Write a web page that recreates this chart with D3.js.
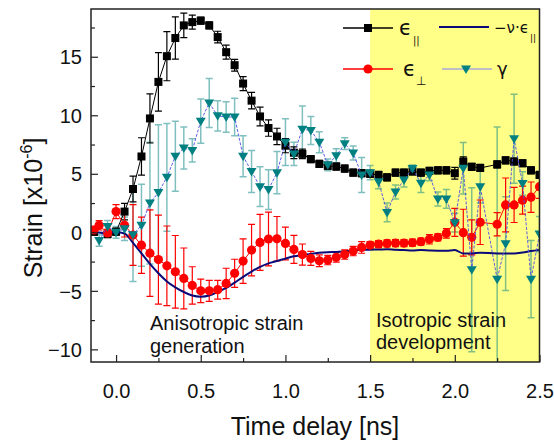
<!DOCTYPE html>
<html>
<head>
<meta charset="utf-8">
<script src="https://cdn.jsdelivr.net/npm/d3@7"></script>
<style>
  body { margin: 0; background: #fff; }
  svg { font-family: "Liberation Sans", Arial, sans-serif; }
</style>
</head>
<body>
<svg id="chart"></svg>
<script>
// time delay (ns)
const tPar = [-0.13, -0.05, 0, 0.05, 0.1, 0.15, 0.2, 0.25, 0.3, 0.35, 0.4, 0.45, 0.5, 0.55, 0.6, 0.65, 0.7, 0.75, 0.8, 0.85, 0.9, 0.95,
  1.0, 1.05, 1.1, 1.15, 1.2, 1.25, 1.3, 1.35, 1.4, 1.45, 1.5, 1.55, 1.6, 1.65, 1.7, 1.75, 1.8, 1.85, 1.9, 1.95,
  2.0, 2.05, 2.1, 2.15, 2.25, 2.3, 2.35, 2.4, 2.45, 2.5];
const epsPar = [0.05, -0.15, 0.05, 1.77, 3.7, 6.48, 9.73, 12.85, 15.05, 16.6, 17.68, 17.96, 18.08, 17.68, 16.68, 15.39, 14.28, 12.71, 11.25, 9.9, 8.91, 8.19,
  7.4, 6.8, 6.7, 6.25, 5.85, 5.68, 5.62, 5.45, 5.1, 5.05, 5.0, 4.9, 4.7, 5.1, 5.1, 5.2, 5.1, 5.25, 5.3, 5.3,
  5.05, 6.05, 5.6, 5.5, 5.8, 6.15, 6.05, 5.9, 5.3, 4.9];
const epsParErr = [0.3, 0.3, 0.3, 0.7, 1.1, 1.6, 2.1, 2.5, 2.1, 1.8, 1.05, 0.6, 0.3, 0.3, 0.5, 0.6, 0.5, 0.6, 0.7, 0.8, 0.7, 0.7,
  0.6, 0.5, 0.4, 0.3, 0.3, 0.3, 0.3, 0.3, 0.3, 0.3, 0.3, 0.3, 0.3, 0.3, 0.3, 0.3, 0.3, 0.3, 0.3, 0.3,
  0.5, 0.4, 0.3, 0.3, 0.3, 0.3, 0.3, 0.3, 0.3, 0.3];

const tPerp = [-0.13, -0.1, -0.05, 0, 0.05, 0.1, 0.15, 0.2, 0.25, 0.3, 0.35, 0.4, 0.45, 0.5, 0.55, 0.6, 0.65, 0.7, 0.75, 0.8, 0.85, 0.9, 0.95,
  1.0, 1.05, 1.1, 1.15, 1.2, 1.25, 1.3, 1.35, 1.4, 1.45, 1.5, 1.55, 1.6, 1.65, 1.7, 1.75, 1.8, 1.85, 1.9, 1.95,
  2.0, 2.05, 2.1, 2.15, 2.25, 2.3, 2.35, 2.4, 2.45, 2.5];
const epsPerp = [0.2, 0.6, -0.05, 1.77, 0.6, -0.23, -1.1, -1.78, -2.33, -2.86, -3.37, -3.94, -4.54, -5.0, -5.0, -4.9, -4.37, -3.5, -2.46, -1.52, -0.86, -0.57, -0.55,
  -0.95, -1.46, -1.9, -2.23, -2.43, -2.37, -2.14, -1.9, -1.6, -1.29, -1.09, -1.0, -0.95, -0.92, -0.92, -0.89, -0.8, -0.6, -0.43, -0.09,
  0.85, -0.03, -0.43, 0.86, 0.69, 2.34, 2.34, 2.75, 3.0, 3.9];
const epsPerpErr = [0.3, 0.4, 0.3, 0.6, 1.0, 2.6, 2.4, 3.7, 3.8, 3.4, 3.1, 2.6, 1.6, 1.0, 0.9, 0.8, 1.3, 1.2, 1.9, 2.2, 2.4, 2.3, 1.9,
  1.4, 1.2, 0.9, 0.6, 0.5, 0.4, 0.4, 0.4, 0.4, 0.5, 0.3, 0.3, 0.3, 0.3, 0.3, 0.3, 0.3, 0.4, 0.3, 0.4,
  1.2, 2.0, 1.5, 1.9, 1.0, 2.3, 1.5, 1.2, 1.3, 1.0];

// -nu * eps_par curve
const nuEps = [0.0, -0.05, 0.0, -0.1, -0.9, -1.8, -2.7, -3.5, -4.2, -4.7, -5.1, -5.4, -5.5, -5.4, -5.1, -4.75, -4.3, -3.8, -3.35, -2.95, -2.65, -2.45,
  -2.25, -2.05, -1.95, -1.85, -1.75, -1.7, -1.68, -1.62, -1.55, -1.5, -1.48, -1.47, -1.45, -1.5, -1.52, -1.55, -1.52, -1.55, -1.57, -1.57,
  -1.52, -1.8, -1.8, -1.75, -1.8, -1.8, -1.8, -1.72, -1.6, -1.5];

const tGamma = [-0.1, -0.05, 0, 0.05, 0.1, 0.15, 0.2, 0.25, 0.3, 0.35, 0.4, 0.45, 0.5, 0.55, 0.6, 0.65, 0.7, 0.75, 0.8, 0.85, 0.9, 0.95,
  1.0, 1.05, 1.1, 1.15, 1.2, 1.25, 1.3, 1.35, 1.4, 1.45, 1.5, 1.55, 1.6, 1.65, 1.7, 1.75, 1.8, 1.85, 1.9, 1.95,
  2.0, 2.05, 2.1, 2.15, 2.25, 2.3, 2.35, 2.4, 2.45, 2.5];
const gamma = [-0.7, 0.5, 0.0, 0.3, -0.2, 0.6, 2.5, 3.4, 4.7, 6.5, 7.2, 7.0, 9.5, 11.05, 9.95, 9.85, 9.85, 6.5, 5.2, 3.9, 3.65, 5.1,
  7.7, 6.7, 8.8, 8.7, 7.7, 5.77, 6.54, 7.57, 6.77, 4.9, 5.1, 4.33, 1.7, 3.45, 4.48, 5.45, 4.2, 4.9, 2.85, 2.85,
  0.82, 5.48, -3.2, 3.9, -4.0, -0.97, 8.0, 4.17, -4.0, -0.15];
const gammaErr = [0.5, 0.5, 0.5, 1.0, 4.0, 3.5, 5.2, 5.8, 4.6, 3.0, 1.8, 1.0, 1.9, 2.1, 1.3, 1.3, 1.6, 1.75, 1.8, 1.7, 1.7, 1.8,
  2.0, 1.0, 2.0, 1.2, 0.9, 0.5, 0.6, 0.5, 0.6, 1.5, 0.6, 0.6, 0.8, 0.6, 0.6, 0.3, 0.8, 0.5, 0.6, 0.8,
  0.8, 2.2, 7.0, 1.4, 13.0, 4.0, 3.8, 1.0, 3.3, 1.5];

const xTicks = [0.0, 0.5, 1.0, 1.5, 2.0, 2.5];
const xMinorTicks = [0.25, 0.75, 1.25, 1.75, 2.25];
const yTicks = [-10, -5, 0, 5, 10, 15];
const yMinorTicks = [-7.5, -2.5, 2.5, 7.5, 12.5, 17.5];
const isoRange = [1.5, 2.5];

var W = 554, H = 441;
var margin = { top: 9, right: 14.5, bottom: 79, left: 91 };
var width = W - margin.left - margin.right;
var height = H - margin.top - margin.bottom;

const svg = d3.select("#chart")
  .attr("width", W)
  .attr("height", H)
  .append("g")
  .attr("transform", `translate(${margin.left},${margin.top})`);

const x = d3.scaleLinear().domain([-0.148, 2.5]).range([0, width]);
const y = d3.scaleLinear().domain([-11.08, 19.08]).range([height, 0]);

svg.append("clipPath").attr("id", "clip")
  .append("rect").attr("width", width).attr("height", height);

// yellow "isotropic" region
svg.append("rect")
  .attr("x", x(isoRange[0]))
  .attr("y", 0)
  .attr("width", x(isoRange[1]) - x(isoRange[0]))
  .attr("height", height)
  .attr("fill", "#ffff88");

// annotations
const notes = svg.append("g").attr("font-size", 20).attr("fill", "#111");
notes.append("text").attr("x", 59).attr("y", 321).text("Anisotropic strain");
notes.append("text").attr("x", 59).attr("y", 344).text("generation");
notes.append("text").attr("x", 285).attr("y", 318).text("Isotropic strain");
notes.append("text").attr("x", 285).attr("y", 340).text("development");

const plot = svg.append("g").attr("clip-path", "url(#clip)");

function rows(t, v, e) { return t.map((d, i) => ({ t: d, v: v[i], e: e ? e[i] : 0 })); }
const parData = rows(tPar, epsPar, epsParErr);
const perpData = rows(tPerp, epsPerp, epsPerpErr);
const nuData = rows(tPar, nuEps);
const gamData = rows(tGamma, gamma, gammaErr);

function errorBars(data, color, opacity, sw) {
  const g = plot.append("g").attr("stroke", color).attr("stroke-opacity", opacity).attr("stroke-width", sw).attr("fill", "none");
  data.forEach(d => {
    const px = x(d.t), y1 = y(d.v + d.e), y2 = y(d.v - d.e);
    g.append("path").attr("d", `M${px},${y1}V${y2}M${px - 3.5},${y1}H${px + 3.5}M${px - 3.5},${y2}H${px + 3.5}`);
  });
}

const line = d3.line().x(d => x(d.t)).y(d => y(d.v));

// error bars first
errorBars(gamData, "#008080", 0.5, 1.5);
errorBars(parData, "#000", 1, 1.2);
errorBars(perpData, "#ff0000", 1, 1.2);

// eps_par
plot.append("path").datum(parData).attr("d", line)
  .attr("fill", "none").attr("stroke", "#000").attr("stroke-width", 1);
plot.append("g").selectAll("rect").data(parData).join("rect")
  .attr("x", d => x(d.t) - 4).attr("y", d => y(d.v) - 4)
  .attr("width", 8).attr("height", 8).attr("fill", "#000");

// -nu * eps_par
plot.append("path").datum(nuData).attr("d", line.curve(d3.curveMonotoneX))
  .attr("fill", "none").attr("stroke", "#0a0a78").attr("stroke-width", 2);
line.curve(d3.curveLinear);

// eps_perp
plot.append("path").datum(perpData).attr("d", line)
  .attr("fill", "none").attr("stroke", "#ff0000").attr("stroke-width", 1);
plot.append("g").selectAll("circle").data(perpData).join("circle")
  .attr("cx", d => x(d.t)).attr("cy", d => y(d.v)).attr("r", 4.6).attr("fill", "#ff0000");

// gamma
plot.append("path").datum(gamData).attr("d", line)
  .attr("fill", "none").attr("stroke", "#4b4be6").attr("stroke-width", 0.9).attr("stroke-dasharray", "3,1.5");
const tri = "M-5,-3.5L5,-3.5L0,5Z";
plot.append("g").selectAll("path").data(gamData).join("path")
  .attr("transform", d => `translate(${x(d.t)},${y(d.v)})`)
  .attr("d", tri).attr("fill", "#008080");

// axes (inward ticks)
const xAxis = svg.append("g").attr("transform", `translate(0,${height})`)
  .call(d3.axisBottom(x).tickValues(xTicks).tickFormat(d3.format(".1f")).tickSize(-7).tickPadding(22));
const xMinor = svg.append("g").attr("transform", `translate(0,${height})`)
  .call(d3.axisBottom(x).tickValues(xMinorTicks).tickSize(-4).tickFormat(""));
const yAxis = svg.append("g")
  .call(d3.axisLeft(y).tickValues(yTicks).tickSize(-7).tickPadding(9));
const yMinor = svg.append("g")
  .call(d3.axisLeft(y).tickValues(yMinorTicks).tickSize(-4).tickFormat(""));

[xAxis, xMinor, yAxis, yMinor].forEach(a => {
  a.select(".domain").remove();
  a.selectAll("line").attr("stroke", "#222").attr("stroke-width", 1.2);
  a.selectAll("text").attr("font-size", 20).attr("fill", "#111").attr("font-family", "Liberation Sans, Arial, sans-serif");
});
yAxis.selectAll("text").attr("dy", "0.36em");

// frame
svg.append("rect").attr("width", width).attr("height", height)
  .attr("fill", "none").attr("stroke", "#222").attr("stroke-width", 1.5);

// axis titles
svg.append("text")
  .attr("text-anchor", "middle")
  .attr("x", 315 - margin.left)
  .attr("y", 435 - margin.top)
  .attr("font-size", 25).attr("fill", "#111")
  .text("Time delay [ns]");

const yt = svg.append("text")
  .attr("text-anchor", "middle")
  .attr("transform", `translate(${42 - margin.left},${208 - margin.top}) rotate(-90)`)
  .attr("font-size", 25).attr("fill", "#111");
yt.append("tspan").text("Strain [x10");
yt.append("tspan").attr("font-size", 16).attr("dy", -10).text("-6");
yt.append("tspan").attr("dy", 10).text("]");

// legend
const legend = svg.append("g").attr("fill", "#111");
const L = { x0: 343 - margin.left, y1: 28 - margin.top, y2: 69 - margin.top };
// eps_par
legend.append("line").attr("x1", L.x0).attr("x2", L.x0 + 50).attr("y1", L.y1).attr("y2", L.y1).attr("stroke", "#000").attr("stroke-width", 1.3);
legend.append("rect").attr("x", L.x0 + 21).attr("y", L.y1 - 4).attr("width", 8).attr("height", 8).attr("fill", "#000");
const l1 = legend.append("text").attr("x", L.x0 + 56).attr("y", L.y1 + 7).attr("font-size", 21).attr("font-family", "DejaVu Sans");
l1.append("tspan").text("ϵ");
l1.append("tspan").attr("font-size", 10).attr("dy", 9).attr("dx", 1).text("||");
// -nu eps_par
legend.append("line").attr("x1", 439 - margin.left).attr("x2", 489 - margin.left).attr("y1", L.y1 - 1).attr("y2", L.y1 - 1).attr("stroke", "#0a0a78").attr("stroke-width", 2);
const l2 = legend.append("text").attr("x", 494 - margin.left).attr("y", L.y1 + 5).attr("font-size", 15).attr("font-family", "DejaVu Sans");
l2.append("tspan").text("−ν·ϵ");
l2.append("tspan").attr("font-size", 9).attr("dy", 8).attr("dx", 1).text("||");
// eps_perp
legend.append("line").attr("x1", L.x0).attr("x2", L.x0 + 50).attr("y1", L.y2).attr("y2", L.y2).attr("stroke", "#ff0000").attr("stroke-width", 1.3);
legend.append("circle").attr("cx", L.x0 + 25).attr("cy", L.y2).attr("r", 4.6).attr("fill", "#ff0000");
const l3 = legend.append("text").attr("x", L.x0 + 60).attr("y", L.y2 + 7).attr("font-size", 21).attr("font-family", "DejaVu Sans");
l3.append("tspan").text("ϵ");
l3.append("tspan").attr("font-size", 12).attr("dy", 9).attr("dx", 0).text("⊥");
// gamma
legend.append("line").attr("x1", 442 - margin.left).attr("x2", 492 - margin.left).attr("y1", L.y2).attr("y2", L.y2).attr("stroke", "#a8a8d8").attr("stroke-width", 1.3);
legend.append("path").attr("transform", `translate(${466 - margin.left},${L.y2})`).attr("d", tri).attr("fill", "#008080");
legend.append("text").attr("x", 497 - margin.left).attr("y", L.y2 + 6).attr("font-size", 18).attr("font-family", "DejaVu Sans").text("γ");
</script>
</body>
</html>
